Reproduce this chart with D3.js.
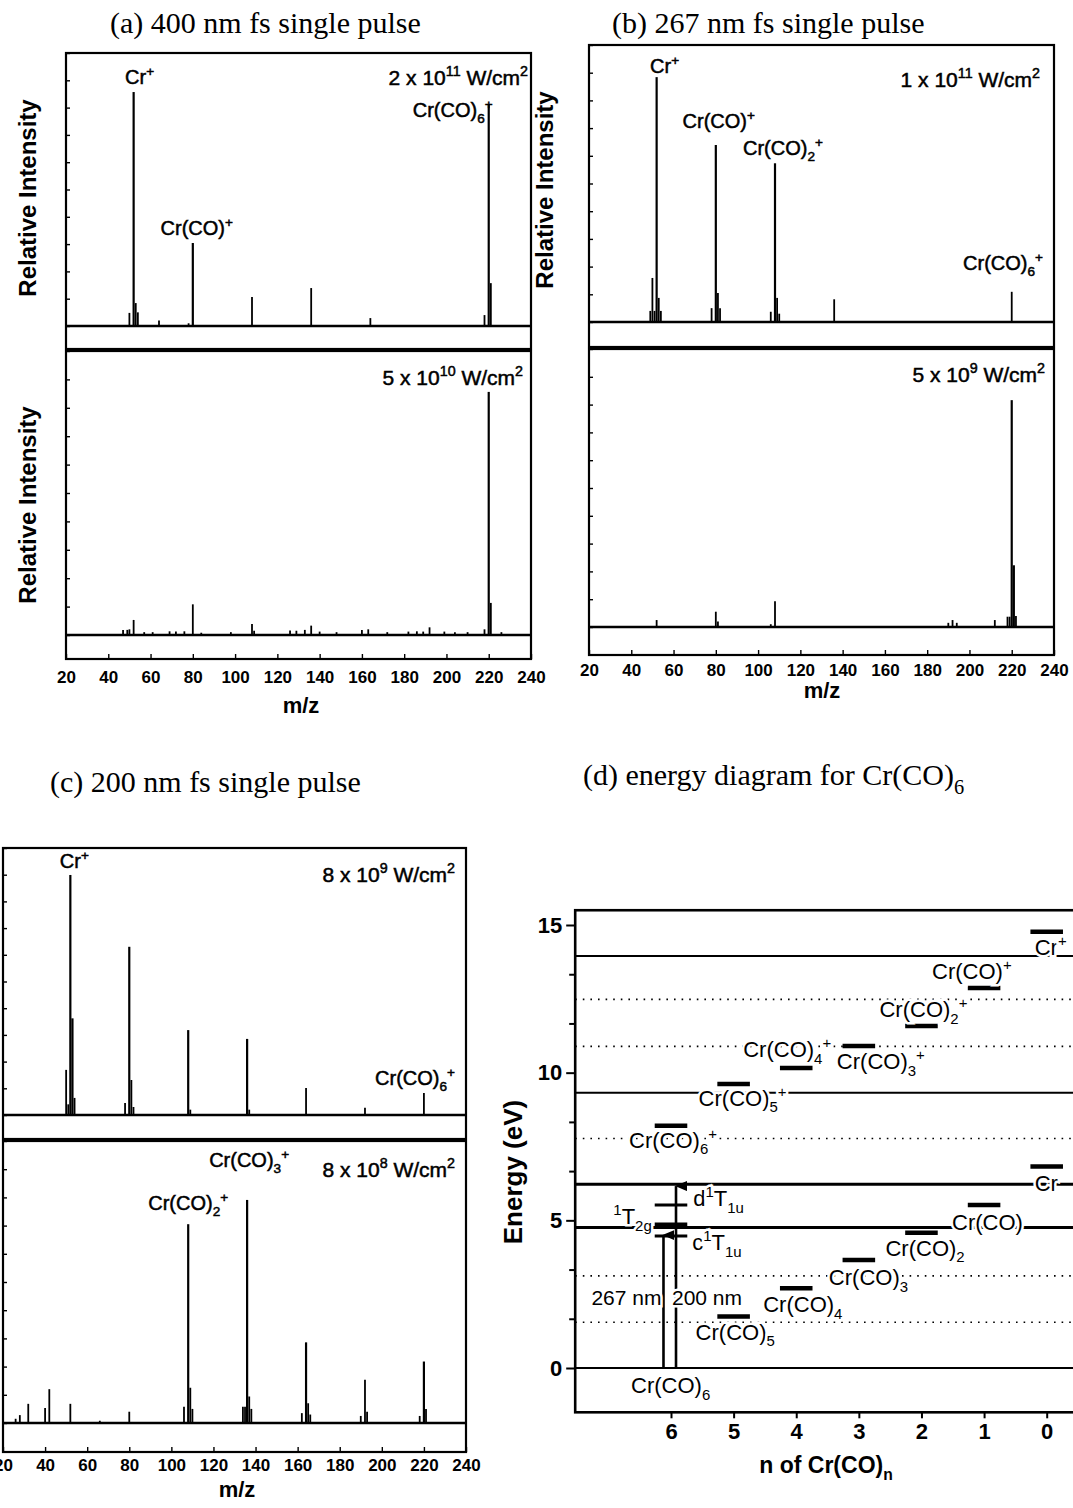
<!DOCTYPE html>
<html>
<head>
<meta charset="utf-8">
<script src="https://cdn.jsdelivr.net/npm/d3@7"></script>
<style>
  body { margin: 0; background: #fff; }
  svg { display: block; font-family: "Liberation Sans", Arial, sans-serif; }
</style>
</head>
<body>
<svg id="fig" width="1073" height="1508"></svg>
<script>
// ---- data ----
const mzTicks = [20, 40, 60, 80, 100, 120, 140, 160, 180, 200, 220, 240];

// [m/z, relative intensity] for each mass spectrum
const peaksA1 = [[50, 4.8], [52, 85.7], [53, 8.4], [54, 5], [64, 2], [78, 1], [80, 30.4], [108, 10.6],
  [136, 13.9], [164, 2.9], [218, 4], [220, 81], [221, 15.7]];
const peaksA2 = [[47, 1.8], [49, 1.8], [50, 2], [52, 5.3], [57, 1], [61, 1], [69, 1.3], [72, 1.2], [76, 1.3],
  [80, 10.8], [84, 0.8], [98, 1], [108, 3.9], [109, 1.5], [126, 1.6], [129, 1.5], [133, 1.8], [136, 3.3],
  [140, 1.2], [148, 1], [160, 1.8], [163, 2], [172, 1], [182, 1.2], [186, 1.3], [189, 1.2], [192, 2.7],
  [199, 1.2], [204, 1], [210, 1], [218, 2], [220, 85.6], [221, 11.3], [226, 1]];
const peaksB1 = [[49, 4], [50, 15.9], [51, 4], [52, 88.4], [53, 8.7], [54, 4], [78, 5], [80, 63.9], [81, 10.5],
  [82, 5], [106, 3.7], [108, 57.3], [109, 8.7], [110, 3], [136, 8.2], [220, 10.9]];
const peaksB2 = [[52, 2.5], [80, 5.5], [81, 2], [106, 1], [108, 9.3], [190, 1.5], [192, 2.5], [194, 1.5],
  [212, 2.5], [218, 3.7], [219, 3.7], [220, 81.6], [221, 22.2], [222, 4]];
const peaksC1 = [[50, 16.9], [51, 4], [52, 89.9], [53, 36.2], [54, 6.4], [78, 4.5], [80, 63], [81, 13.1],
  [82, 3], [108, 31.8], [109, 2], [136, 28.5], [137, 2], [164, 10.1], [192, 2.7], [220, 8.2]];
const peaksC2 = [[26, 1.5], [28, 2.8], [32, 6.8], [40, 5.3], [42, 12], [52, 6.8], [66, 0.8], [80, 4],
  [106, 5.8], [108, 70.5], [109, 12.5], [110, 5], [134, 5.8], [135, 5.8], [136, 79.1], [137, 9.4], [138, 5],
  [162, 3.5], [164, 28.6], [165, 7], [166, 3], [190, 2.5], [192, 15.3], [193, 4], [218, 2.5], [220, 21.8], [221, 5]];

const titles = ["(a) 400 nm fs single pulse", "(b) 267 nm fs single pulse",
  "(c) 200 nm fs single pulse", "(d) energy diagram for Cr(CO)_6"];
const intensities = ["2 x 10^{11} W/cm^2", "5 x 10^{10} W/cm^2", "1 x 10^{11} W/cm^2",
  "5 x 10^9 W/cm^2", "8 x 10^9 W/cm^2", "8 x 10^8 W/cm^2"];

// energy diagram
const nTicks = [6, 5, 4, 3, 2, 1, 0];
const energyLabels = [0, 5, 10, 15];
const energyMinor = [1.667, 3.333, 6.667, 8.333, 11.667, 13.333];
const ionNames = ["Cr(CO)_6^+", "Cr(CO)_5^+", "Cr(CO)_4^+", "Cr(CO)_3^+", "Cr(CO)_2^+", "Cr(CO)^+", "Cr^+"];
const ionE = [8.2, 9.62, 10.16, 10.9, 11.58, 12.87, 14.77];
const neutralNames = ["Cr(CO)_6", "Cr(CO)_5", "Cr(CO)_4", "Cr(CO)_3", "Cr(CO)_2", "Cr(CO)", "Cr"];
const neutralE = [0, 1.74, 2.7, 3.66, 4.58, 5.52, 6.82];
const solidLevels = [13.95, 9.32, 6.22, 4.76, 0];
const dottedLevels = [12.48, 10.89, 7.77, 3.12, 1.55];
const excitedNames = ["d^1T_{1u}", "^1T_{2g}", "c^1T_{1u}"];
const excitedE = [5.52, 4.84, 4.47];
const photonNames = ["267 nm", "200 nm"];
const photonE = [4.5, 6.16];
const photonN = [6.12, 5.92];

// ---- helpers ----
const svg = d3.select("#fig");
svg.append("rect").attr("width", 1073).attr("height", 1508).attr("fill", "#fff");

// "_x" / "_{xy}" subscript, "^x" / "^{xy}" superscript
function rich(sel, str, fs) {
  const parts = str.split(/(\^\{[^}]*\}|_\{[^}]*\}|\^\S|_\S)/).filter(s => s !== "");
  let off = 0;
  parts.forEach(p => {
    let t = p, target = 0, size = fs;
    if (p[0] === "^") { t = p.slice(1).replace(/[{}]/g, ""); target = -0.42 * fs; size = 0.68 * fs; }
    else if (p[0] === "_") { t = p.slice(1).replace(/[{}]/g, ""); target = 0.3 * fs; size = 0.68 * fs; }
    sel.append("tspan").attr("dy", target - off).attr("font-size", size).text(t);
    off = target;
  });
  return sel;
}

function label(g, x, y, str, fs, anchor, opts = {}) {
  const t = g.append("text")
    .attr("x", x).attr("y", y)
    .attr("text-anchor", anchor || "start")
    .attr("font-size", fs)
    .attr("font-weight", opts.bold ? "bold" : "normal")
    .attr("fill", "#000");
  if (opts.halo) t.attr("stroke", "#fff").attr("stroke-width", 5).attr("paint-order", "stroke");
  else if (!opts.serif && !opts.bold) t.attr("stroke", "#000").attr("stroke-width", 0.5);
  if (opts.serif) t.attr("font-family", "'Liberation Serif', 'Times New Roman', serif");
  return rich(t, str, fs);
}

// ---- titles ----
label(svg, 110, 33, titles[0], 30, "start", { serif: true });
label(svg, 612, 33, titles[1], 30, "start", { serif: true });
label(svg, 50, 792, titles[2], 30, "start", { serif: true });
label(svg, 583, 785, titles[3], 30, "start", { serif: true });

// ---- mass spectra ----
function spectrum(cfg) {
  const g = svg.append("g");
  const x = d3.scaleLinear().domain([20, 240]).range([cfg.x0, cfg.x1]);

  cfg.subs.forEach(s => {
    const y = d3.scaleLinear().domain([0, 100]).range([s.base, s.top]);

    g.append("rect")
      .attr("x", cfg.x0).attr("y", s.top)
      .attr("width", cfg.x1 - cfg.x0).attr("height", s.bottom - s.top)
      .attr("fill", "none").attr("stroke", "#000").attr("stroke-width", 2.2);

    // little inner ticks on the left edge
    g.append("g")
      .attr("transform", `translate(${cfg.x0},0)`)
      .call(d3.axisLeft(y).tickValues(d3.range(0, 101, 10)).tickSize(-4).tickFormat(""))
      .call(a => a.select(".domain").remove())
      .selectAll("line").attr("stroke-width", 1.4);

    g.append("line")
      .attr("x1", cfg.x0).attr("x2", cfg.x1)
      .attr("y1", y(0)).attr("y2", y(0))
      .attr("stroke", "#000").attr("stroke-width", 2.4);

    g.selectAll(null).data(s.peaks).enter().append("line")
      .attr("x1", d => x(d[0])).attr("x2", d => x(d[0]))
      .attr("y1", y(0)).attr("y2", d => y(d[1]))
      .attr("stroke", "#000")
      .attr("stroke-width", d => d[1] > 20 ? 2.2 : 1.8);

    s.labels.forEach(l => {
      const lx = l.mz !== undefined ? x(l.mz) + l.dx : cfg.x1 + l.dx;
      label(g, lx, l.y, l.t, l.fs || 20, l.anchor, {});
    });
  });

  const bottom = cfg.subs[cfg.subs.length - 1].bottom;
  const ax = g.append("g")
    .attr("transform", `translate(0,${bottom})`)
    .call(d3.axisBottom(x).tickValues(mzTicks).tickSizeInner(-5).tickSizeOuter(0).tickPadding(cfg.tickPad));
  ax.select(".domain").remove();
  ax.selectAll("line").attr("stroke-width", 1.4);
  ax.selectAll("text")
    .attr("font-size", 17).attr("font-weight", "bold")
    .attr("font-family", "'Liberation Sans', Arial, sans-serif");

  label(g, cfg.mzLabel[0], cfg.mzLabel[1], "m/z", 22, "middle", { bold: true });

  cfg.yLabels.forEach(p => {
    g.append("text")
      .attr("transform", `translate(${p[0]},${p[1]}) rotate(-90)`)
      .attr("text-anchor", "middle")
      .attr("font-size", 24).attr("font-weight", "bold")
      .text("Relative Intensity");
  });
}

spectrum({
  x0: 66, x1: 531, tickPad: 12, mzLabel: [301, 713],
  yLabels: [[36, 198], [36, 505]],
  subs: [
    { top: 53, base: 326, bottom: 349, peaks: peaksA1, labels: [
      { t: "Cr^+", mz: 52, dx: 6, y: 84, anchor: "middle" },
      { t: "Cr(CO)^+", mz: 80, dx: 4, y: 235, anchor: "middle" },
      { t: "Cr(CO)_6^+", mz: 220, dx: 4, y: 117, anchor: "end" },
      { t: intensities[0], dx: -3, y: 85, anchor: "end", fs: 21 }] },
    { top: 351, base: 635, bottom: 659, peaks: peaksA2, labels: [
      { t: intensities[1], dx: -8, y: 385, anchor: "end", fs: 21 }] }
  ]
});

spectrum({
  x0: 589, x1: 1054, tickPad: 9, mzLabel: [822, 698],
  yLabels: [[553, 190]],
  subs: [
    { top: 45, base: 322, bottom: 347, peaks: peaksB1, labels: [
      { t: "Cr^+", mz: 52, dx: 8, y: 73, anchor: "middle" },
      { t: "Cr(CO)^+", mz: 80, dx: 3, y: 128, anchor: "middle" },
      { t: "Cr(CO)_2^+", mz: 108, dx: 8, y: 155, anchor: "middle" },
      { t: "Cr(CO)_6^+", dx: -11, y: 270, anchor: "end" },
      { t: intensities[2], dx: -14, y: 87, anchor: "end", fs: 21 }] },
    { top: 349, base: 627, bottom: 655, peaks: peaksB2, labels: [
      { t: intensities[3], dx: -9, y: 382, anchor: "end", fs: 21 }] }
  ]
});

spectrum({
  x0: 3, x1: 466, tickPad: 7, mzLabel: [237, 1497],
  yLabels: [],
  subs: [
    { top: 848, base: 1115, bottom: 1139, peaks: peaksC1, labels: [
      { t: "Cr^+", mz: 52, dx: 4, y: 868, anchor: "middle" },
      { t: "Cr(CO)_6^+", dx: -11, y: 1085, anchor: "end" },
      { t: intensities[4], dx: -11, y: 882, anchor: "end", fs: 21 }] },
    { top: 1141, base: 1423, bottom: 1452, peaks: peaksC2, labels: [
      { t: "Cr(CO)_3^+", mz: 136, dx: 2, y: 1167, anchor: "middle" },
      { t: "Cr(CO)_2^+", mz: 108, dx: 0, y: 1210, anchor: "middle" },
      { t: intensities[5], dx: -11, y: 1177, anchor: "end", fs: 21 }] }
  ]
});

// ---- (d) energy diagram ----
const gd = svg.append("g");
const xN = d3.scaleLinear().domain([6, 0]).range([671, 1046.7]);
const yE = d3.scaleLinear().domain([0, 15]).range([1368, 925]);
const dLeft = xN(7.53), dRight = xN(-0.7), dTop = yE(15.5), dBottom = yE(-1.5);

// levels across the panel
gd.selectAll(null).data(dottedLevels).enter().append("line")
  .attr("x1", dLeft).attr("x2", dRight)
  .attr("y1", d => yE(d)).attr("y2", d => yE(d))
  .attr("stroke", "#000").attr("stroke-width", 1.6).attr("stroke-dasharray", "1.6,6");

gd.selectAll(null).data(solidLevels).enter().append("line")
  .attr("x1", dLeft).attr("x2", dRight)
  .attr("y1", d => yE(d)).attr("y2", d => yE(d))
  .attr("stroke", "#000").attr("stroke-width", (d, i) => (i === 2 || i === 3) ? 3 : 2.2);

gd.append("rect")
  .attr("x", dLeft).attr("y", dTop)
  .attr("width", dRight - dLeft).attr("height", dBottom - dTop)
  .attr("fill", "none").attr("stroke", "#000").attr("stroke-width", 2.6);

// axes
const yMaj = gd.append("g").attr("transform", `translate(${dLeft},0)`)
  .call(d3.axisLeft(yE).tickValues(energyLabels).tickSize(9).tickPadding(4).tickFormat(d3.format("d")));
const yMin = gd.append("g").attr("transform", `translate(${dLeft},0)`)
  .call(d3.axisLeft(yE).tickValues(energyMinor).tickSize(6).tickFormat(""));
const xAx = gd.append("g").attr("transform", `translate(0,${dBottom})`)
  .call(d3.axisBottom(xN).tickValues(nTicks).tickSize(6).tickPadding(5).tickFormat(d3.format("d")));
[yMaj, yMin, xAx].forEach(a => {
  a.select(".domain").remove();
  a.selectAll("line").attr("stroke-width", 2);
  a.selectAll("text").attr("font-size", 22).attr("font-weight", "bold")
    .attr("font-family", "'Liberation Sans', Arial, sans-serif");
});

gd.append("text")
  .attr("transform", `translate(522,1172) rotate(-90)`)
  .attr("text-anchor", "middle")
  .attr("font-size", 26).attr("font-weight", "bold")
  .text("Energy (eV)");
label(gd, 826, 1473, "n of Cr(CO)_n", 23, "middle", { bold: true });

// arrows for the photons
gd.append("defs").append("marker")
  .attr("id", "head").attr("viewBox", "0 0 10 12")
  .attr("refX", 5).attr("refY", 1).attr("markerWidth", 10).attr("markerHeight", 12)
  .attr("markerUnits", "userSpaceOnUse").attr("orient", "auto-start-reverse")
  .append("path").attr("d", "M0,12 L5,0 L10,12 Z").attr("fill", "#000");

photonE.forEach((e, i) => {
  gd.append("line")
    .attr("x1", xN(photonN[i])).attr("x2", xN(photonN[i]))
    .attr("y1", yE(0)).attr("y2", yE(e))
    .attr("stroke", "#000").attr("stroke-width", 2.6)
    .attr("marker-end", "url(#head)");
});

// short level bars
const barHalf = 0.26;
gd.selectAll(null).data(ionE).enter().append("line")
  .attr("x1", (d, i) => xN(nTicks[i] + barHalf)).attr("x2", (d, i) => xN(nTicks[i] - barHalf))
  .attr("y1", d => yE(d)).attr("y2", d => yE(d))
  .attr("stroke", "#000").attr("stroke-width", 4.5);
// neutral bars (ground state is the 0 eV line)
gd.selectAll(null).data(neutralE.slice(1)).enter().append("line")
  .attr("x1", (d, i) => xN(nTicks[i + 1] + barHalf)).attr("x2", (d, i) => xN(nTicks[i + 1] - barHalf))
  .attr("y1", d => yE(d)).attr("y2", d => yE(d))
  .attr("stroke", "#000").attr("stroke-width", 4.5);

// excited states of Cr(CO)6
gd.selectAll(null).data(excitedE).enter().append("line")
  .attr("x1", xN(6 + barHalf)).attr("x2", xN(6 - barHalf))
  .attr("y1", d => yE(d)).attr("y2", d => yE(d))
  .attr("stroke", "#000").attr("stroke-width", (d, i) => i === 1 ? 5 : 3.2);

// labels
const ionOffsets = [[-42, 22], [-35, 22], [-53, -11], [-22, 23], [-42, -9], [-52, -9], [-12, 23]];
const neutralOffsets = [[-40, 25], [-38, 23], [-33, 24], [-30, 25], [-36, 23], [-32, 25], [-12, 24]];
ionNames.forEach((t, i) => {
  label(gd, xN(nTicks[i]) + ionOffsets[i][0], yE(ionE[i]) + ionOffsets[i][1], t, 22, "start", { halo: true });
});
neutralNames.forEach((t, i) => {
  label(gd, xN(nTicks[i]) + neutralOffsets[i][0], yE(neutralE[i]) + neutralOffsets[i][1], t, 22, "start", { halo: true });
});
label(gd, xN(6 - barHalf) + 6, yE(excitedE[0]) + 1, excitedNames[0], 22, "start", { halo: true });
label(gd, xN(6 + barHalf) - 3, yE(excitedE[1]) - 1, excitedNames[1], 22, "end", { halo: true });
label(gd, xN(6 - barHalf) + 5, yE(excitedE[2]) + 14, excitedNames[2], 22, "start", { halo: true });
label(gd, xN(photonN[0]) - 2, yE(2.15), photonNames[0], 21, "end", { halo: true });
label(gd, xN(photonN[1]) - 4, yE(2.15), photonNames[1], 21, "start", { halo: true });
</script>
</body>
</html>
